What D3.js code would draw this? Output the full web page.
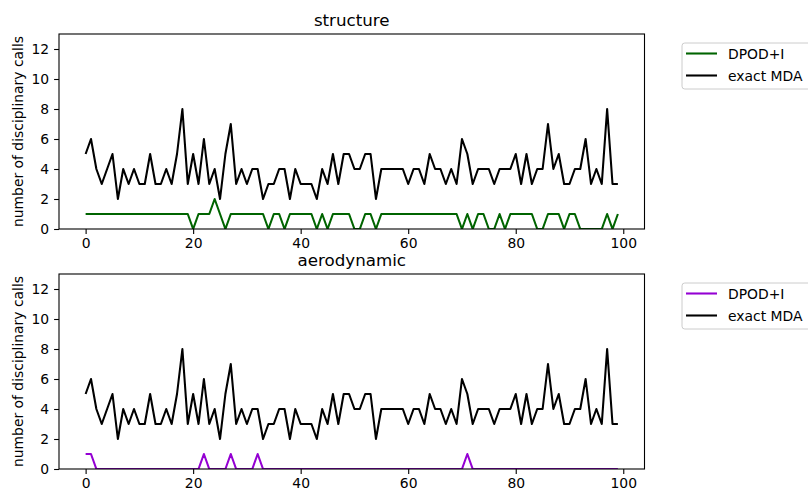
<!DOCTYPE html>
<html><head><meta charset="utf-8">
<script src="https://cdn.jsdelivr.net/npm/d3@7"></script>
<style>body{margin:0;background:#fff}svg{display:block;font-family:"DejaVu Sans",sans-serif}</style>
</head><body><svg id="c" width="808" height="490"></svg>
<script>
const steps = d3.range(0, 100);
const exactMDA = [5,6,4,3,4,5,2,4,3,4, 3,3,5,3,3,4,3,5,8,3, 5,3,6,3,4,2,5,7,3,4, 3,4,4,2,3,3,4,4,2,4, 3,3,3,2,4,3,5,3,5,5, 4,4,5,5,2,4,4,4,4,4, 3,4,4,3,5,4,4,3,4,3, 6,5,3,4,4,4,3,4,4,4, 5,3,5,3,4,4,7,4,5,3, 3,4,4,6,3,4,3,8,3,3];
const structureDPOD = [1,1,1,1,1,1,1,1,1,1, 1,1,1,1,1,1,1,1,1,1, 0,1,1,1,2,1,0,1,1,1, 1,1,1,1,0,1,1,0,1,1, 1,1,1,0,1,0,1,1,1,1, 0,0,1,1,0,1,1,1,1,1, 1,1,1,1,1,1,1,1,1,1, 0,1,0,1,1,0,0,1,0,1, 1,1,1,1,0,0,1,1,1,0, 1,1,0,0,0,0,0,1,0,1];
const aeroDPOD = [1,1,0,0,0,0,0,0,0,0, 0,0,0,0,0,0,0,0,0,0, 0,0,1,0,0,0,0,1,0,0, 0,0,1,0,0,0,0,0,0,0, 0,0,0,0,0,0,0,0,0,0, 0,0,0,0,0,0,0,0,0,0, 0,0,0,0,0,0,0,0,0,0, 0,1,0,0,0,0,0,0,0,0, 0,0,0,0,0,0,0,0,0,0, 0,0,0,0,0,0,0,0,0,0];
const xTicks = [0,20,40,60,80,100];
const yTicks = [0,2,4,6,8,10,12];
const titles = ["structure","aerodynamic"];
const seriesNames = ["DPOD+I","exact MDA"];
const dpodColors = ["#006400","#9400d3"];

const svg = d3.select("#c");
const L = 59, R = 644.5, H = 195;
const tops = [34, 274];
const x = d3.scaleLinear().domain([-4.95, 103.95]).range([L, R]);
const fs = 13.9;

titles.forEach((t, i) => {
  const top = tops[i], bot = top + H;
  const y = d3.scaleLinear().domain([0, 13]).range([bot, top]);
  const g = svg.append("g");
  const line = d3.line().x((d, j) => x(steps[j])).y(d => y(d));
  const clipId = "clip" + i;
  svg.append("clipPath").attr("id", clipId).append("rect").attr("x", L).attr("y", top).attr("width", R - L).attr("height", H);
  const lg = g.append("g").attr("clip-path", `url(#${clipId})`);
  const dp = i === 0 ? structureDPOD : aeroDPOD;
  lg.append("path").attr("d", line(dp)).attr("fill", "none").attr("stroke", dpodColors[i]).attr("stroke-width", 2.08).attr("stroke-linejoin", "round");
  lg.append("path").attr("d", line(exactMDA)).attr("fill", "none").attr("stroke", "#000").attr("stroke-width", 2.08).attr("stroke-linejoin", "round");

  const xa = g.append("g").attr("transform", `translate(0,${bot})`)
    .call(d3.axisBottom(x).tickValues(xTicks).tickSize(4.9).tickPadding(4.5).tickFormat(d3.format("d")));
  const ya = g.append("g").attr("transform", `translate(${L},0)`)
    .call(d3.axisLeft(y).tickValues(yTicks).tickSize(4.9).tickPadding(4.9).tickFormat(d3.format("d")));
  [xa, ya].forEach(a => {
    a.select(".domain").remove();
    a.selectAll("line").attr("stroke", "#000").attr("stroke-width", 1.1);
    a.selectAll("text").attr("fill", "#000").style("font-size", fs + "px").style("font-family", "DejaVu Sans");
  });
  g.append("rect").attr("x", L).attr("y", top).attr("width", R - L).attr("height", H)
    .attr("fill", "none").attr("stroke", "#000").attr("stroke-width", 1.1);

  g.append("text").attr("x", (L + R) / 2).attr("y", top - 8.3).attr("text-anchor", "middle")
    .style("font-size", "16.7px").text(t);
  g.append("text").attr("transform", `translate(23,${top + H / 2}) rotate(-90)`)
    .attr("text-anchor", "middle").style("font-size", fs + "px").text("number of disciplinary calls");

  // legend
  const lx = 682, ly = top + 9;
  const leg = g.append("g");
  leg.append("rect").attr("x", lx).attr("y", ly).attr("width", 140).attr("height", 46).attr("rx", 2.8)
    .attr("fill", "#fff").attr("fill-opacity", 0.8).attr("stroke", "#cccccc").attr("stroke-width", 1);
  [dpodColors[i], "#000"].forEach((c, k) => {
    const ry = ly + 10.5 + k * 22;
    leg.append("line").attr("x1", lx + 4).attr("x2", lx + 35).attr("y1", ry).attr("y2", ry)
      .attr("stroke", c).attr("stroke-width", 2.08);
    leg.append("text").attr("x", lx + 46).attr("y", ry + 5).style("font-size", fs + "px").text(seriesNames[k]);
  });
});
</script></body></html>
